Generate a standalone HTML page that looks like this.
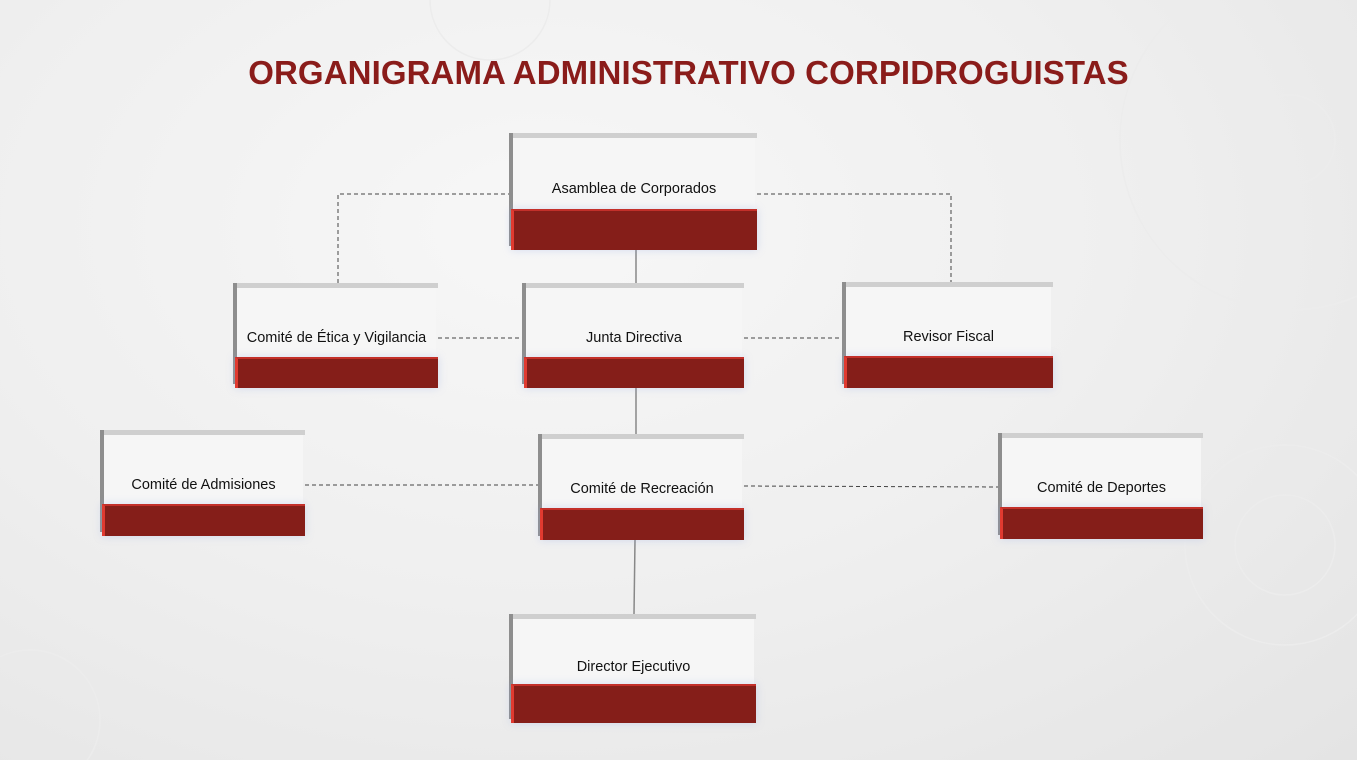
<!DOCTYPE html>
<html><head><meta charset="utf-8"><style>
body{margin:0;width:1357px;height:760px;overflow:hidden;background:radial-gradient(ellipse at 40% 30%,#f7f7f7 0%,#efefef 50%,#e4e4e4 100%);font-family:"Liberation Sans",sans-serif;position:relative}
.t{position:absolute;left:10px;width:1357px;top:54px;text-align:center;font-weight:bold;font-size:33px;color:#8a1c1a;letter-spacing:0.1px}
.b{position:absolute}
.b .g{position:absolute;left:0;top:0;right:0;height:5px;background:#cfcfcf}
.b .l{position:absolute;left:0;top:0;width:4px;bottom:4px;background:#8e8e8e}
.b .w{position:absolute;left:4px;top:5px;right:2px;background:#f6f6f6;display:flex;align-items:center;justify-content:center;font-size:14.5px;color:#111;padding-top:28px;box-sizing:border-box}
.b .r{position:absolute;left:2px;right:0;bottom:0;background:#851e19;border-top:2px solid #c3302a;border-left:3px solid #e03a30;box-shadow:0 0 8px rgba(150,170,230,.35)}
</style></head><body>
<div class="t">ORGANIGRAMA ADMINISTRATIVO CORPIDROGUISTAS</div>
<svg width="1357" height="760" style="position:absolute;left:0;top:0">
<g fill="none" stroke="#ececec" stroke-width="1.5"><circle cx="1290" cy="140" r="45"/><circle cx="1290" cy="140" r="170"/><circle cx="1285" cy="545" r="50"/><circle cx="1285" cy="545" r="100"/><circle cx="30" cy="720" r="70"/><circle cx="490" cy="0" r="60"/></g>
<g stroke="#444" stroke-width="1" stroke-dasharray="4,3" fill="none">
<polyline points="338,283 338,194 509,194"/><polyline points="757,194 951,194 951,282"/>
<line x1="438" y1="338" x2="522" y2="338"/><line x1="744" y1="338" x2="842" y2="338"/>
<line x1="305" y1="485" x2="538" y2="485"/><line x1="744" y1="486" x2="998" y2="487"/></g>
<g stroke="#888" stroke-width="1.5"><line x1="636" y1="250" x2="636" y2="283"/><line x1="636" y1="388" x2="636" y2="434"/><line x1="635" y1="540" x2="634" y2="614"/></g>
</svg>
<div class="b" style="left:509px;top:133px;width:248px;height:117px"><div class="g"></div><div class="l"></div><div class="w" style="height:73px">Asamblea de Corporados</div><div class="r" style="height:39px"></div></div>
<div class="b" style="left:233px;top:283px;width:205px;height:105px"><div class="g"></div><div class="l"></div><div class="w" style="height:71px">Comité de Ética y Vigilancia</div><div class="r" style="height:29px"></div></div>
<div class="b" style="left:522px;top:283px;width:222px;height:105px"><div class="g"></div><div class="l"></div><div class="w" style="height:71px">Junta Directiva</div><div class="r" style="height:29px"></div></div>
<div class="b" style="left:842px;top:282px;width:211px;height:106px"><div class="g"></div><div class="l"></div><div class="w" style="height:71px">Revisor Fiscal</div><div class="r" style="height:30px"></div></div>
<div class="b" style="left:100px;top:430px;width:205px;height:106px"><div class="g"></div><div class="l"></div><div class="w" style="height:71px">Comité de Admisiones</div><div class="r" style="height:30px"></div></div>
<div class="b" style="left:538px;top:434px;width:206px;height:106px"><div class="g"></div><div class="l"></div><div class="w" style="height:71px">Comité de Recreación</div><div class="r" style="height:30px"></div></div>
<div class="b" style="left:998px;top:433px;width:205px;height:106px"><div class="g"></div><div class="l"></div><div class="w" style="height:71px">Comité de Deportes</div><div class="r" style="height:30px"></div></div>
<div class="b" style="left:509px;top:614px;width:247px;height:109px"><div class="g"></div><div class="l"></div><div class="w" style="height:68px">Director Ejecutivo</div><div class="r" style="height:37px"></div></div>
</body></html>
